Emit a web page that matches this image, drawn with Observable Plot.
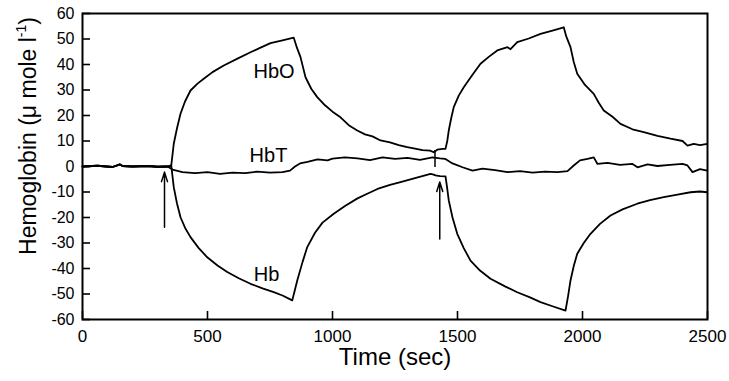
<!DOCTYPE html>
<html><head><meta charset="utf-8">
<script src="https://cdn.jsdelivr.net/npm/d3@7"></script>
<script src="https://cdn.jsdelivr.net/npm/@observablehq/plot@0.6"></script>
<style>body{margin:0;background:#fff} svg{font-family:"Liberation Sans",Arial,sans-serif}</style>
</head><body><div id="chart"></div>
<script>
const xTicks = [0, 500, 1000, 1500, 2000, 2500];
const yTicks = [-60, -50, -40, -30, -20, -10, 0, 10, 20, 30, 40, 50, 60];

const tHbO = [0,60,120,150,160,200,260,300,340,355,365,378,392,410,432,460,485,520,565,620,672,710,752,800,845,858,872,892,915,939,970,1000,1032,1065,1099,1130,1160,1192,1230,1265,1299,1330,1360,1390,1405,1419,1440,1452,1459,1465,1475,1485,1505,1525,1560,1592,1625,1659,1700,1712,1739,1785,1832,1880,1925,1935,1952,1965,1979,2010,2045,2065,2085,2120,2152,2200,2245,2300,2352,2400,2420,2445,2470,2499];
const vHbO = [0,0.3,-0.2,0.8,0.2,0,0.2,-0.1,0,0.4,8.9,15,20.7,25.5,29.8,32.5,34.4,37,39.6,42.3,44.8,46.5,48.4,49.5,50.5,46.5,42.9,35,30.5,27.2,24,21.5,19.3,16.2,14.1,12.6,11.8,10.2,9.5,8.4,7.6,7,6.4,6.2,5.6,6.6,6.9,6.9,10,14.1,19,23.3,27.8,31.1,36,40.3,43,45.5,46.8,46,48.8,50.2,52,53.3,54.6,51,46.8,41,36.4,32,28.5,25,22,19.5,16.7,14.6,13.5,12,10.9,10,8.2,8.9,8.4,8.9];

const tHbT = [0,60,120,150,160,200,260,300,340,360,400,450,500,550,600,650,700,750,800,830,850,870,900,940,980,1000,1050,1100,1150,1200,1250,1300,1350,1400,1430,1450,1480,1520,1560,1600,1650,1700,1750,1800,1850,1900,1940,1965,1990,2020,2045,2060,2100,2150,2200,2220,2260,2300,2350,2400,2420,2440,2470,2499];
const vHbT = [0,0.3,-0.2,0.8,0.2,0,0.2,-0.1,0,-1.2,-2.2,-2.6,-2.2,-2.9,-2.4,-2.6,-2,-2.4,-2.2,-1.6,0,1.2,1.8,2.8,2.4,3.1,3.6,3.2,2.5,3.6,3.0,3.4,2.6,3.6,3.2,3,1.2,-0.3,-1.6,-0.8,-1.4,-2.2,-1.8,-2.4,-2.0,-2.2,-1.8,0.4,2.4,3,3.6,1,1.4,0.6,1,-0.3,0.8,0.2,0.6,1,0.4,-2.2,-1.0,-1.6];

const tHb = [0,60,120,150,160,200,260,300,340,355,365,378,392,410,432,465,499,540,579,625,672,720,765,800,839,848,859,880,899,930,960,1005,1050,1100,1139,1180,1230,1272,1330,1392,1405,1412,1430,1452,1458,1465,1480,1499,1525,1552,1590,1632,1690,1739,1790,1832,1880,1932,1942,1952,1965,1979,2005,2032,2070,2112,2160,2219,2270,2325,2380,2432,2470,2499];
const vHb = [0,0.3,-0.2,0.8,0.2,0,0.2,-0.1,0,0.4,-8.1,-14.5,-19.9,-24,-27.7,-32,-35.6,-38.8,-41.4,-43.8,-46,-47.8,-49.3,-50.6,-52.5,-49,-44.7,-37.5,-31.6,-26,-22,-18.5,-15.5,-12.5,-10.7,-8.8,-7.2,-6.1,-4.6,-2.9,-3.2,-3.5,-3.8,-3.9,-8,-13.3,-20,-26.4,-32,-36.9,-40.8,-44,-47,-49.3,-51.3,-53.2,-54.8,-56.5,-51,-44.7,-39,-34.2,-30,-26.4,-22.5,-19.2,-16.8,-14.6,-13.2,-12,-11,-10.1,-9.8,-10.1];

const arrowT = [328, 1429];
const arrowFrom = [-23.8, -28.4];
const arrowTo = [-2.2, -6.1];

const markerT = [1410];
const markerTop = [6.3];
const markerBottom = [-0.4];

const seriesLabels = ["HbO", "HbT", "Hb"];
const labelT = [766, 744, 736];
const labelV = [37.4, 4.3, -42.5];

const toRows = (t, v) => t.map((x, i) => ({t: x, v: v[i]}));
const arrows = arrowT.map((t, i) => ({t, y1: arrowFrom[i], y2: arrowTo[i]}));
const markers = markerT.map((t, i) => ({t, y1: markerBottom[i], y2: markerTop[i]}));
const labels = seriesLabels.map((s, i) => ({s, t: labelT[i], v: labelV[i]}));

const W = 729, H = 381, mL = 82, mR = 22, mT = 13, mB = 62;
const fw = W - mL - mR, fh = H - mT - mB;

const chart = Plot.plot({
  width: W, height: H,
  marginLeft: mL, marginRight: mR, marginTop: mT, marginBottom: mB,
  style: {fontFamily: "Liberation Sans, Arial, sans-serif", background: "white", color: "black", overflow: "visible"},
  x: {domain: [0, 2500]},
  y: {domain: [-60, 60]},
  marks: [
    Plot.axisX(xTicks, {tickSize: 0, tickPadding: 10, fontSize: 17, tickFormat: d => String(d), label: null}),
    Plot.axisY(yTicks, {tickSize: 0, tickPadding: 8, fontSize: 16, tickFormat: d => String(d), label: null}),
    Plot.ruleX(xTicks, {x: d => d, insetTop: fh - 8, stroke: "black", strokeWidth: 1.6}),
    Plot.ruleY(yTicks, {y: d => d, insetRight: fw - 8, stroke: "black", strokeWidth: 1.6}),
    Plot.line(toRows(tHbO, vHbO), {x: "t", y: "v", stroke: "black", strokeWidth: 1.8}),
    Plot.line(toRows(tHbT, vHbT), {x: "t", y: "v", stroke: "black", strokeWidth: 1.8}),
    Plot.line(toRows(tHb, vHb), {x: "t", y: "v", stroke: "black", strokeWidth: 1.8}),
    Plot.ruleX(markers, {x: "t", y1: "y1", y2: "y2", stroke: "black", strokeWidth: 1.5}),
    Plot.arrow(arrows, {x1: "t", x2: "t", y1: "y1", y2: "y2", stroke: "black", strokeWidth: 1.5, headLength: 10, headAngle: 35}),
    Plot.text(labels, {x: "t", y: "v", text: "s", fontSize: 20, fill: "black"}),
    Plot.frame({stroke: "black", strokeWidth: 2}),
    Plot.text(["Time (sec)"], {frameAnchor: "bottom", lineAnchor: "middle", dy: 38, fontSize: 24, fill: "black"})
  ]
});

const svg = d3.select(chart);
const yl = svg.append("text")
  .attr("transform", `translate(36,${mT + fh / 2 - 30}) rotate(-90)`)
  .attr("text-anchor", "middle")
  .attr("font-size", 23)
  .attr("fill", "black");
yl.append("tspan").text("Hemoglobin (μ mole l");
yl.append("tspan").attr("font-size", 14).attr("dy", -10).text("-1");
yl.append("tspan").attr("dy", 10).text(")");

document.getElementById("chart").appendChild(chart);
</script>
</body></html>
